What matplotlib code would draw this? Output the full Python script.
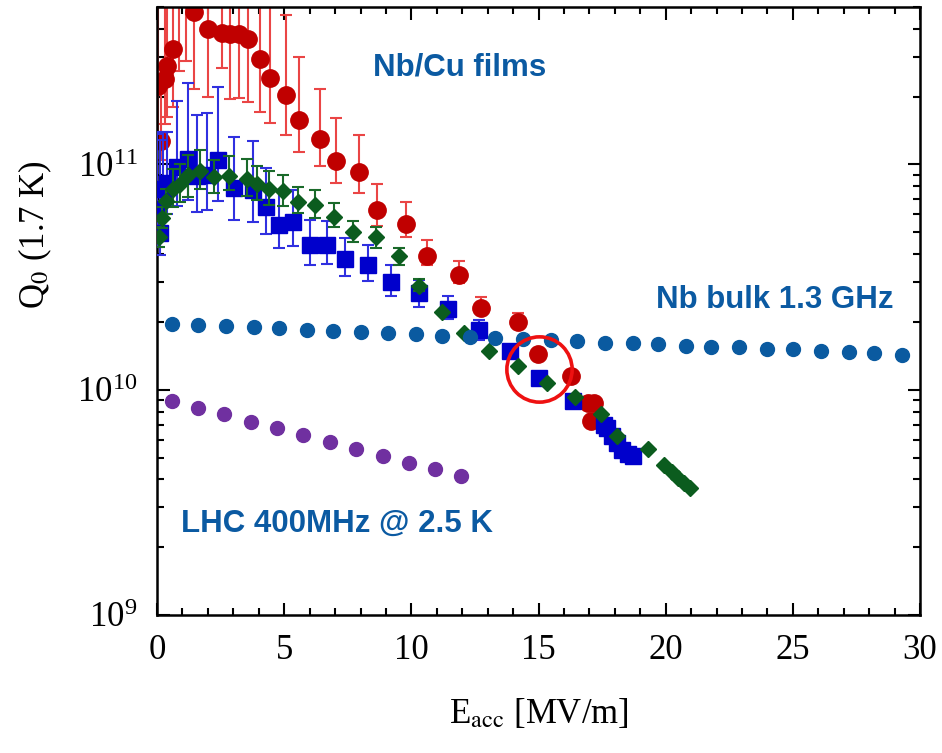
import numpy as np
import matplotlib
matplotlib.use('Agg')
import matplotlib.pyplot as plt

plt.rcParams['font.family'] = 'serif'
plt.rcParams['font.serif'] = ['Liberation Serif', 'DejaVu Serif']
plt.rcParams['mathtext.fontset'] = 'stix'

# Nb/Cu films, red circles (E, Q0, lower end of bar, upper end of bar)
red_e = [0.05, 0.16, 0.31, 0.4, 0.62, 0.88, 1.14, 1.47, 2.0, 2.55, 2.85, 3.24, 3.57,
         4.06, 4.46, 5.08, 5.6, 6.39, 7.02, 7.96, 8.65, 9.78, 10.62, 11.89, 12.72,
         14.19, 14.99, 16.29, 16.95, 17.2, 17.05]
red_q = [2.23e11, 1.27e11, 2.40e11, 2.74e11, 3.24e11, 5.6e11, 5.8e11, 4.77e11, 3.98e11,
         3.82e11, 3.78e11, 3.78e11, 3.59e11, 2.93e11, 2.42e11, 2.03e11, 1.57e11, 1.30e11,
         1.04e11, 9.25e10, 6.25e10, 5.43e10, 3.91e10, 3.22e10, 2.31e10, 1.99e10, 1.44e10,
         1.15e10, 8.7e9, 8.7e9, 7.3e9]
red_lo = [1.4e11, 1.05e11, 1.51e11, 1.63e11, 1.79e11, 2.60e11, 2.88e11, 2.17e11, 2.0e11,
          2.69e11, 1.96e11, 1.98e11, 1.9e11, 1.71e11, 1.52e11, 1.35e11, 1.13e11, 9.8e10,
          8.3e10, 7.48e10, 5.32e10, 4.77e10, 3.56e10, 2.98e10, 2.23e10, 1.95e10, 1.42e10,
          np.nan, np.nan, np.nan, np.nan]
red_hi = [8e11, 2.5e11, 8e11, 8e11, 8e11, 9e11, 9e11, 9e11, 9e11, 9e11, 9e11, 9e11, 9e11,
          9e11, 9e11, 4.59e11, 3.01e11, 2.17e11, 1.60e11, 1.35e11, 8.17e10, 6.82e10,
          4.64e10, 3.72e10, 2.57e10, 2.19e10, 1.5e10, np.nan, np.nan, np.nan, np.nan]

# blue squares
blue_e = [0.01, 0.12, 0.25, 0.4, 0.77, 1.23, 1.56, 1.95, 2.41, 3.03, 3.79, 4.28, 4.78,
          5.34, 6.0, 6.68, 7.4, 8.28, 9.19, 10.29, 11.43, 12.65, 13.88, 15.03, 16.35,
          17.58, 17.68, 17.88, 18.07, 18.27, 18.53, 18.73]
blue_q = [6.31e10, 4.97e10, 7.8e10, 8.3e10, 9.7e10, 1.06e11, 8.9e10, 9.0e10, 1.05e11,
          7.9e10, 7.7e10, 6.5e10, 5.4e10, 5.56e10, 4.41e10, 4.41e10, 3.81e10, 3.59e10,
          3.0e10, 2.69e10, 2.28e10, 1.85e10, 1.48e10, 1.13e10, 8.87e9, 6.98e9, 6.76e9,
          6.2e9, 5.79e9, 5.41e9, 5.2e9, 5.06e9]
blue_lo = [4.28e10, 3.98e10, 5.7e10, 6.0e10, 6.53e10, 6.92e10, 6.17e10, 6.27e10, 6.87e10,
           5.65e10, 5.56e10, 4.89e10, 4.24e10, 4.34e10, 3.56e10, 3.62e10, 3.21e10, 3.03e10,
           2.6e10, 2.34e10, 2.05e10, 1.67e10, 1.40e10, np.nan, np.nan, np.nan, np.nan,
           np.nan, np.nan, np.nan, np.nan, np.nan]
blue_hi = [1.36e11, 1.29e11, 1.39e11, 1.39e11, 1.91e11, 2.31e11, 1.66e11, 1.69e11, 2.21e11,
           1.32e11, 1.27e11, 9.66e10, 7.74e10, 7.74e10, 5.64e10, 5.6e10, 4.72e10, 4.38e10,
           3.56e10, 3.08e10, 2.6e10, 2.03e10, 1.58e10, np.nan, np.nan, np.nan, np.nan,
           np.nan, np.nan, np.nan, np.nan, np.nan]

# green diamonds
green_e = [0.09, 0.18, 0.35, 0.64, 0.91, 1.23, 1.69, 2.24, 2.83, 3.53, 3.95, 4.42, 4.97,
           5.56, 6.21, 6.94, 7.72, 8.61, 9.52, 10.3, 11.2, 12.05, 13.07, 14.19, 15.33,
           16.42, 17.45, 18.07, 19.32, 19.95, 20.24, 20.5, 20.73, 20.96]
green_q = [4.77e10, 5.8e10, 6.87e10, 7.8e10, 8.15e10, 9.0e10, 9.34e10, 8.8e10, 8.87e10,
           8.63e10, 8.15e10, 7.8e10, 7.6e10, 6.8e10, 6.6e10, 5.87e10, 5.0e10, 4.75e10,
           3.91e10, 2.88e10, 2.21e10, 1.79e10, 1.48e10, 1.27e10, 1.07e10, 9.3e9, 7.8e9,
           6.2e9, 5.44e9, 4.61e9, 4.33e9, 4.06e9, 3.85e9, 3.66e9]
green_lo = [4.31e10, 5.2e10, 6.0e10, 6.5e10, 6.8e10, 7.2e10, 7.8e10, 7.5e10, 7.74e10,
            7.23e10, 6.98e10, 6.64e10, 6.57e10, 6.1e10, 5.79e10, 5.26e10, 4.52e10, 4.27e10,
            3.59e10, 2.75e10] + [np.nan] * 14
green_hi = [5.3e10, 6.5e10, 7.8e10, 9.5e10, 1.0e11, 1.1e11, 1.16e11, 1.05e11, 1.09e11,
            1.06e11, 9.82e10, 9.33e10, 9.0e10, 7.96e10, 7.69e10, 6.76e10, 5.6e10, 5.26e10,
            4.27e10, 3.1e10] + [np.nan] * 14

# Nb bulk 1.3 GHz
bulk_e = [0.6, 1.6, 2.7, 3.8, 4.8, 5.9, 6.9, 8.0, 9.1, 10.2, 11.2, 12.3, 13.3, 14.4,
          15.5, 16.5, 17.6, 18.7, 19.7, 20.8, 21.8, 22.9, 24.0, 25.0, 26.1, 27.2, 28.2, 29.3]
bulk_q = [1.96e10, 1.94e10, 1.92e10, 1.90e10, 1.87e10, 1.85e10, 1.83e10, 1.81e10, 1.78e10,
          1.76e10, 1.74e10, 1.71e10, 1.70e10, 1.68e10, 1.66e10, 1.64e10, 1.62e10, 1.61e10,
          1.59e10, 1.57e10, 1.55e10, 1.54e10, 1.52e10, 1.51e10, 1.49e10, 1.47e10, 1.46e10,
          1.42e10]

# LHC 400 MHz @ 2.5 K
lhc_e = [0.58, 1.63, 2.65, 3.69, 4.72, 5.75, 6.79, 7.83, 8.87, 9.91, 10.93, 11.97]
lhc_q = [8.93e9, 8.32e9, 7.77e9, 7.22e9, 6.73e9, 6.29e9, 5.86e9, 5.47e9, 5.09e9, 4.75e9,
         4.43e9, 4.12e9]

ring_e, ring_q = 15.03, 1.24e10

txt_blue = '#0b5aa2'


def yerr(q, lo, hi):
    q, lo, hi = np.array(q), np.array(lo), np.array(hi)
    return [q - lo, hi - q]


fig = plt.figure(figsize=(9.42, 7.53), dpi=100)
ax = fig.add_axes([0.1667, 0.1833, 0.81, 0.8074])

ax.errorbar(red_e, red_q, yerr=yerr(red_q, red_lo, red_hi), fmt='o', ms=12.5,
            color='#c00000', ecolor='#ea4545', elinewidth=1.5, capsize=4, capthick=1.5,
            zorder=2)
ax.errorbar(blue_e, blue_q, yerr=yerr(blue_q, blue_lo, blue_hi), fmt='s', ms=11.5,
            color='#0000cc', ecolor='#3030e0', elinewidth=1.5, capsize=4, capthick=1.5,
            zorder=3)
ax.errorbar(green_e, green_q, yerr=yerr(green_q, green_lo, green_hi), fmt='D', ms=8.5,
            color='#0b5c1e', ecolor='#1a6a2a', elinewidth=1.5, capsize=4, capthick=1.5,
            zorder=4)
ax.plot(bulk_e, bulk_q, 'o', ms=10, color='#0a5aa0', zorder=5, ls='none')
ax.plot(lhc_e, lhc_q, 'o', ms=10, color='#7030a0', zorder=5, ls='none')
ax.plot([ring_e], [ring_q], 'o', ms=47, mfc='none', mec='#ee1111', mew=2.6, zorder=6)

ax.set_yscale('log')
ax.set_xlim(0, 30)
ax.set_ylim(1e9, 5e11)
ax.set_xticks([0, 5, 10, 15, 20, 25, 30])
ax.set_xticks(np.arange(0, 31, 1), minor=True)

for s in ax.spines.values():
    s.set_linewidth(1.8)
ax.tick_params(which='both', direction='in', top=True, right=True, width=1.5,
               labelsize=25, pad=14)
ax.tick_params(which='major', length=9)
ax.tick_params(which='minor', length=5)

ax.set_xlabel(r'E$_{\mathrm{acc}}$ [MV/m]', fontsize=25)
ax.set_ylabel(r'Q$_0$ (1.7 K)', fontsize=25)
ax.xaxis.set_label_coords(0.5, -0.135)
ax.yaxis.set_label_coords(-0.135, 0.625)

sans = dict(family='Liberation Sans', fontweight='bold', fontsize=22.5, color=txt_blue,
            va='center', ha='left')
ax.text(8.5, 2.7e11, 'Nb/Cu films', **sans)
ax.text(19.6, 2.5e10, 'Nb bulk 1.3 GHz', **sans)
ax.text(0.95, 2.55e9, 'LHC 400MHz @ 2.5 K', **sans)

fig.savefig('out.png', dpi=100)
